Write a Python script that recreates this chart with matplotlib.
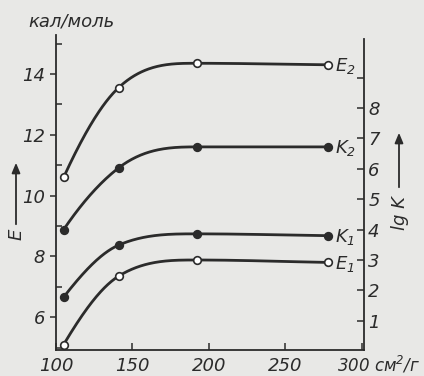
import numpy as np
import matplotlib
matplotlib.use("Agg")
import matplotlib.pyplot as plt
from matplotlib.ticker import MultipleLocator, FixedLocator

# ---- data ----
area = [105, 141, 192, 278]            # см^2/г
E2 = [10.6, 13.55, 14.35, 14.3]        # кал/моль (left axis)
E1 = [5.1, 7.35, 7.88, 7.8]
K2 = [4.0, 6.03, 6.72, 6.72]           # lg K (right axis)
K1 = [1.78, 3.49, 3.86, 3.8]
x_ticks = [100, 150, 200, 250, 300]
e_ticks = [6, 8, 10, 12, 14]
lgk_ticks = [1, 2, 3, 4, 5, 6, 7, 8]

INK = "#2b2b2b"
BG = "#e8e8e6"
plt.rcParams["font.family"] = ["DejaVu Sans"]
plt.rcParams["font.style"] = "italic"


def smooth(x, y, n=300):
    """Shape-preserving cubic Hermite curve drawn through the given points."""
    x = np.asarray(x, float); y = np.asarray(y, float)
    h = np.diff(x); d = np.diff(y) / h
    m = np.zeros_like(y)
    for i in range(1, len(x) - 1):
        if d[i - 1] * d[i] <= 0:
            m[i] = 0.0
        else:
            mi = (h[i] * d[i - 1] + h[i - 1] * d[i]) / (h[i - 1] + h[i])
            lim = 3 * min(abs(d[i - 1]), abs(d[i]))
            m[i] = np.sign(mi) * min(abs(mi), lim)
    m0 = ((2 * h[0] + h[1]) * d[0] - h[0] * d[1]) / (h[0] + h[1])
    if m0 * d[0] <= 0:
        m0 = 0.0
    elif abs(m0) > 3 * abs(d[0]):
        m0 = 3 * d[0]
    m[0] = m0
    m[-1] = d[-1]
    xs = np.linspace(x[0], x[-1], n)
    idx = np.clip(np.searchsorted(x, xs) - 1, 0, len(x) - 2)
    t = (xs - x[idx]) / h[idx]
    h00 = 2 * t**3 - 3 * t**2 + 1; h10 = t**3 - 2 * t**2 + t
    h01 = -2 * t**3 + 3 * t**2; h11 = t**3 - t**2
    ys = h00 * y[idx] + h10 * h[idx] * m[idx] + h01 * y[idx + 1] + h11 * h[idx] * m[idx + 1]
    return xs, ys


fig = plt.figure(figsize=(4.24, 3.76), dpi=100, facecolor=BG)
ax = fig.add_axes([56 / 424, 26 / 376, 308 / 424, 315 / 376])
ax.set_facecolor("none")
ax2 = ax.twinx()
ax2.set_facecolor("none")

ax.set_xlim(100, 301.5)
ax.set_ylim(4.92, 15.28)
ax2.set_ylim(0.04, 10.40)

for a in (ax, ax2):
    a.spines["top"].set_visible(False)
    for s in a.spines.values():
        s.set_color(INK)
        s.set_linewidth(1.3)
ax2.spines["left"].set_visible(False)
ax2.spines["bottom"].set_visible(False)
ax.spines["right"].set_visible(False)
ax2.spines["right"].set_bounds(0.04, 10.27)

# curves
for ys, a, fill in [(E2, ax, False), (E1, ax, False), (K2, ax2, True), (K1, ax2, True)]:
    xs, yy = smooth(area, ys)
    a.plot(xs, yy, color=INK, lw=2.0, solid_capstyle="round", zorder=2)
    a.plot(area, ys, "o", ms=5.5, mew=1.2, mec=INK,
           mfc=INK if fill else "white", zorder=3)

# curve labels
lab_kw = dict(textcoords="offset points", fontsize=13, color=INK, va="center",
              ha="left", style="italic")
ax.annotate("$\\mathit{E}_2$", (area[-1], E2[-1]), xytext=(5, -1), **lab_kw)
ax.annotate("$\\mathit{E}_1$", (area[-1], E1[-1]), xytext=(5, -1), **lab_kw)
ax2.annotate("$\\mathit{K}_2$", (area[-1], K2[-1]), xytext=(5, -1), **lab_kw)
ax2.annotate("$\\mathit{K}_1$", (area[-1], K1[-1]), xytext=(5, -1), **lab_kw)

# ticks
ax.xaxis.set_major_locator(FixedLocator(x_ticks))
ax.set_xticklabels([str(v) for v in x_ticks[:-1]] + [""])
ax.yaxis.set_major_locator(FixedLocator(e_ticks))
ax.yaxis.set_minor_locator(MultipleLocator(1))
ax2.yaxis.set_major_locator(FixedLocator(lgk_ticks))
ax2.yaxis.set_minor_locator(FixedLocator([9]))
ax.tick_params(axis="x", direction="in", length=5, width=1.1, color=INK,
               labelsize=13, labelcolor=INK, pad=5)
ax.tick_params(axis="y", which="major", direction="out", length=4, width=1.1,
               color=INK, labelsize=13, labelcolor=INK, pad=4)
ax.tick_params(axis="y", which="minor", direction="in", length=4, width=1.1, color=INK)
ax2.tick_params(axis="y", which="both", direction="in", length=5, width=1.1,
                color=INK, labelsize=13, labelcolor=INK, pad=3)

# unit and axis names
fig.text(337 / 424, 1 - 365 / 376, "300 см$^2$/г", ha="left", va="center",
         fontsize=12, color=INK)
fig.text(28 / 424, 1 - 22 / 376, "кал/моль", fontsize=13, color=INK,
         ha="left", va="center")
fig.text(17 / 424, 1 - 234 / 376, "E", fontsize=13, color=INK, rotation=90,
         ha="center", va="center")
fig.text(400 / 424, 1 - 213 / 376, "lg K", fontsize=13, color=INK, rotation=90,
         ha="center", va="center")
fig.add_artist(matplotlib.patches.FancyArrowPatch(
    (16 / 424, 1 - 227 / 376), (16 / 424, 1 - 160 / 376), transform=fig.transFigure,
    arrowstyle="-|>,head_length=6,head_width=2.5", lw=1.3, color=INK))
fig.add_artist(matplotlib.patches.FancyArrowPatch(
    (399 / 424, 1 - 190 / 376), (399 / 424, 1 - 130 / 376), transform=fig.transFigure,
    arrowstyle="-|>,head_length=6,head_width=2.5", lw=1.3, color=INK))

fig.savefig("out.png", dpi=100, facecolor=BG)
